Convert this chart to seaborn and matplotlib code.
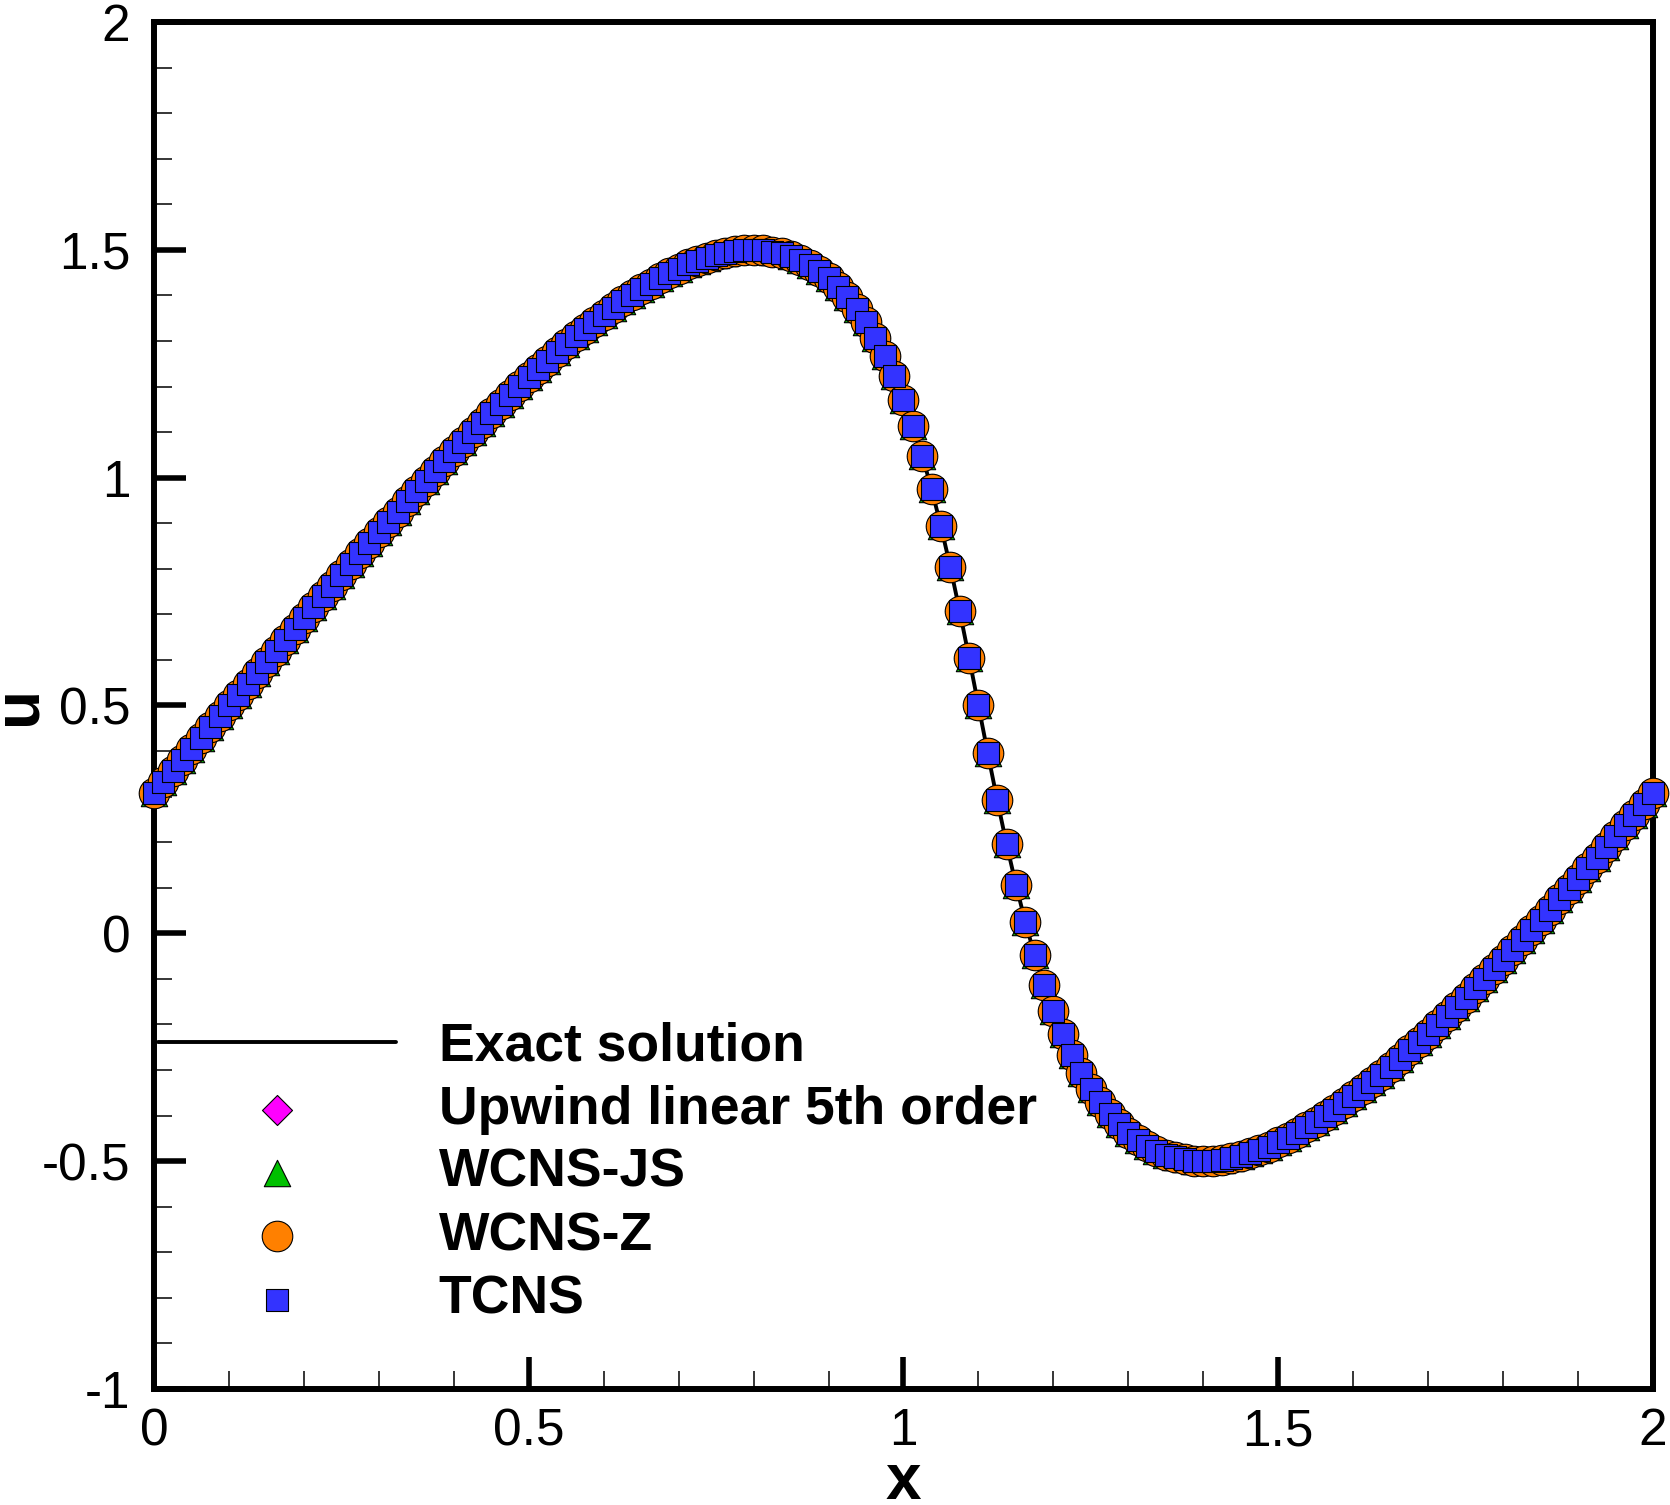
import numpy as np
import pandas as pd
import seaborn as sns
import matplotlib.pyplot as plt
from matplotlib.ticker import MultipleLocator

# grid points (161 points, 0..2)
x = [0.0, 0.0125, 0.025, 0.0375, 0.05, 0.0625, 0.075, 0.0875, 0.1, 0.1125,
     0.125, 0.1375, 0.15, 0.1625, 0.175, 0.1875, 0.2, 0.2125, 0.225, 0.2375,
     0.25, 0.2625, 0.275, 0.2875, 0.3, 0.3125, 0.325, 0.3375, 0.35, 0.3625,
     0.375, 0.3875, 0.4, 0.4125, 0.425, 0.4375, 0.45, 0.4625, 0.475, 0.4875,
     0.5, 0.5125, 0.525, 0.5375, 0.55, 0.5625, 0.575, 0.5875, 0.6, 0.6125,
     0.625, 0.6375, 0.65, 0.6625, 0.675, 0.6875, 0.7, 0.7125, 0.725, 0.7375,
     0.75, 0.7625, 0.775, 0.7875, 0.8, 0.8125, 0.825, 0.8375, 0.85, 0.8625,
     0.875, 0.8875, 0.9, 0.9125, 0.925, 0.9375, 0.95, 0.9625, 0.975, 0.9875,
     1.0, 1.0125, 1.025, 1.0375, 1.05, 1.0625, 1.075, 1.0875, 1.1, 1.1125,
     1.125, 1.1375, 1.15, 1.1625, 1.175, 1.1875, 1.2, 1.2125, 1.225, 1.2375,
     1.25, 1.2625, 1.275, 1.2875, 1.3, 1.3125, 1.325, 1.3375, 1.35, 1.3625,
     1.375, 1.3875, 1.4, 1.4125, 1.425, 1.4375, 1.45, 1.4625, 1.475, 1.4875,
     1.5, 1.5125, 1.525, 1.5375, 1.55, 1.5625, 1.575, 1.5875, 1.6, 1.6125,
     1.625, 1.6375, 1.65, 1.6625, 1.675, 1.6875, 1.7, 1.7125, 1.725, 1.7375,
     1.75, 1.7625, 1.775, 1.7875, 1.8, 1.8125, 1.825, 1.8375, 1.85, 1.8625,
     1.875, 1.8875, 1.9, 1.9125, 1.925, 1.9375, 1.95, 1.9625, 1.975, 1.9875,
     2.0]

# exact solution
u_exact = [0.308, 0.332, 0.356, 0.380, 0.404, 0.428, 0.452, 0.476, 0.500, 0.524,
           0.548, 0.572, 0.596, 0.620, 0.644, 0.668, 0.692, 0.716, 0.740, 0.763,
           0.787, 0.810, 0.834, 0.857, 0.880, 0.903, 0.925, 0.948, 0.970, 0.993,
           1.014, 1.036, 1.058, 1.079, 1.100, 1.121, 1.141, 1.161, 1.181, 1.201,
           1.220, 1.239, 1.257, 1.275, 1.293, 1.310, 1.326, 1.342, 1.358, 1.373,
           1.387, 1.401, 1.414, 1.426, 1.438, 1.449, 1.458, 1.468, 1.475, 1.483,
           1.488, 1.493, 1.497, 1.499, 1.500, 1.499, 1.496, 1.492, 1.486, 1.478,
           1.467, 1.454, 1.438, 1.419, 1.397, 1.371, 1.341, 1.307, 1.267, 1.222,
           1.171, 1.113, 1.048, 0.975, 0.893, 0.804, 0.707, 0.605, 0.500, 0.395,
           0.293, 0.196, 0.107, 0.025, -0.048, -0.113, -0.171, -0.222, -0.267, -0.307,
           -0.341, -0.371, -0.397, -0.419, -0.438, -0.454, -0.467, -0.478, -0.486, -0.492,
           -0.496, -0.499, -0.500, -0.499, -0.497, -0.493, -0.488, -0.483, -0.475, -0.468,
           -0.458, -0.449, -0.438, -0.426, -0.414, -0.401, -0.387, -0.373, -0.358, -0.342,
           -0.326, -0.310, -0.293, -0.275, -0.257, -0.239, -0.220, -0.201, -0.181, -0.161,
           -0.141, -0.121, -0.100, -0.079, -0.058, -0.036, -0.014, 0.008, 0.030, 0.052,
           0.075, 0.097, 0.120, 0.143, 0.166, 0.190, 0.213, 0.237, 0.260, 0.284,
           0.308]

# the four schemes sit on top of the exact curve at this resolution
u_upwind5 = list(u_exact)
u_wcns_js = list(u_exact)
u_wcns_z = list(u_exact)
u_tcns = list(u_exact)

schemes = ['Upwind linear 5th order', 'WCNS-JS', 'WCNS-Z', 'TCNS']
scheme_u = [u_upwind5, u_wcns_js, u_wcns_z, u_tcns]

x_ticks = [0, 0.5, 1, 1.5, 2]
x_ticklabels = ['0', '0.5', '1', '1.5', '2']
y_ticks = [-1, -0.5, 0, 0.5, 1, 1.5, 2]
y_ticklabels = ['-1', '-0.5', '0', '0.5', '1', '1.5', '2']

# marker style per scheme: (marker, size in pt, face colour)
styles = {
    'Upwind linear 5th order': ('D', 15.3, '#FF00FF'),
    'WCNS-JS': ('^', 19.0, '#00C000'),
    'WCNS-Z': ('o', 22.0, '#FF8000'),
    'TCNS': ('s', 16.0, '#3333FF'),
}

sns.set_style('ticks')
plt.rcParams['font.family'] = ['Liberation Sans', 'DejaVu Sans']
plt.rcParams['text.color'] = 'black'
plt.rcParams['axes.labelcolor'] = 'black'
plt.rcParams['xtick.color'] = 'black'
plt.rcParams['ytick.color'] = 'black'

fig = plt.figure(figsize=(16.7, 15.05), dpi=100)
ax = fig.add_axes([0.0922, 0.0771, 0.8976, 0.9083])

df = pd.DataFrame({'x': x, 'u': u_exact})
sns.lineplot(data=df, x='x', y='u', color='black', linewidth=2.8,
             label='Exact solution', ax=ax, zorder=2)

for name, uu in zip(schemes, scheme_u):
    mk, ms, fc = styles[name]
    d = pd.DataFrame({'x': x, 'u': uu})
    sns.scatterplot(data=d, x='x', y='u', marker=mk, s=ms ** 2, color=fc,
                    edgecolor='black', linewidth=0.8, label=name, ax=ax, zorder=3)
for coll in ax.collections:
    coll.set_clip_on(False)

ax.set_xlim(0, 2)
ax.set_ylim(-1, 2)
ax.set_xticks(x_ticks)
ax.set_xticklabels(x_ticklabels)
ax.set_yticks(y_ticks)
ax.set_yticklabels(y_ticklabels)
ax.xaxis.set_minor_locator(MultipleLocator(0.1))
ax.yaxis.set_minor_locator(MultipleLocator(0.1))

ax.tick_params(which='both', direction='in', top=False, right=False,
               colors='black', labelcolor='black')
ax.tick_params(which='major', length=23, width=4.0, labelsize=37)
ax.tick_params(axis='x', which='major', pad=13)
ax.tick_params(axis='y', which='major', pad=17)
ax.tick_params(which='minor', length=13, width=1.1)

for sp in ax.spines.values():
    sp.set_linewidth(4.3)
    sp.set_color('black')
    sp.set_visible(True)

ax.set_xlabel('x', fontsize=46, fontweight='bold', labelpad=-3, color='black')
ax.set_ylabel('u', fontsize=46, fontweight='bold', labelpad=-5, color='black')

ax.legend(loc='upper left', bbox_to_anchor=(0.0027, 0.2690), frameon=False,
          prop={'weight': 'bold', 'size': 38.5}, handlelength=4.45,
          handletextpad=0.8, labelspacing=0.25, borderpad=0, borderaxespad=0,
          scatterpoints=1, labelcolor='black')

fig.savefig('out.png', dpi=100)
